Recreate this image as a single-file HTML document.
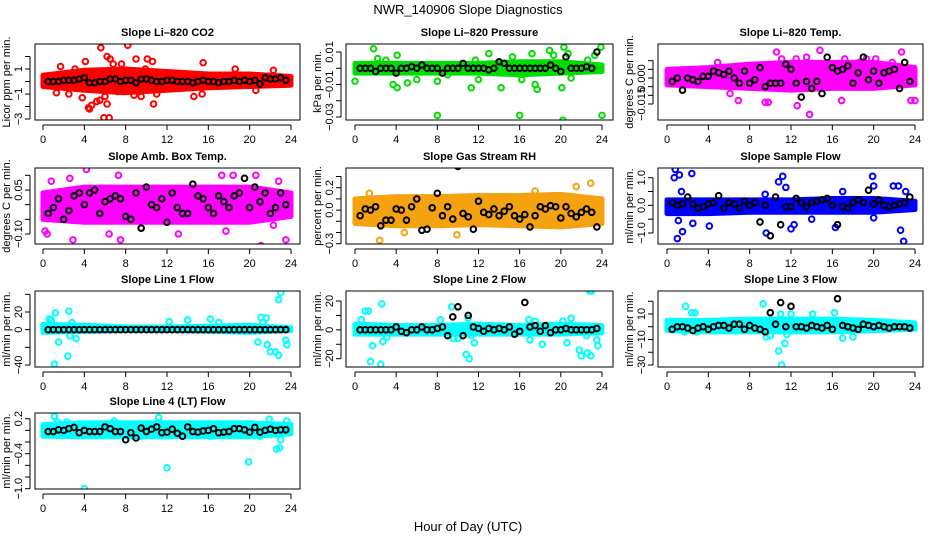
<!DOCTYPE html>
<html><head><meta charset="utf-8"><style>
html,body{margin:0;padding:0;background:#fff}
svg{display:block;font-family:"Liberation Sans",Arial,sans-serif}
</style></head><body>
<svg id="chart" width="936" height="540" viewBox="0 0 936 540">
<text x="468" y="14" text-anchor="middle" font-size="13">NWR_140906  Slope Diagnostics</text>
<text x="468" y="531" text-anchor="middle" font-size="13">Hour of Day (UTC)</text>
</svg>
<script>
// ---- shared categories ----
const BLACK_HOURS=[0.5,1,1.5,2,2.5,3,3.5,4,4.5,5,5.5,6,6.5,7,7.5,8,8.5,9,9.5,10,10.5,11,11.5,12,12.5,13,13.5,14,14.5,15,15.5,16,16.5,17,17.5,18,18.5,19,19.5,20,20.5,21,21.5,22,22.5,23,23.5];
const BAND_HOURS=[0,4,8,12,16,20,24];
const X_TICKS=[0,4,8,12,16,20,24];

// ---- CO2 ----
const co2Black=[0,0,0,0.1,0.1,0.1,0.2,0.3,-0.1,-0.1, 0,0,0.2,0.2,0,0.1,0.1,-0.1,0.2,0.2, 0.1,0,0,0.1,0.1,0,0,0,-0.1,0, 0.1,0,0,-0.1,0,0,0.1,0,0.1,0, 0.1,-0.2,0.3,0.2,0.2,0.3,0.1];
const co2Lo=[-0.4,-0.7,-0.9,-0.7,-0.5,-0.4,-0.3];
const co2Hi=[0.5,0.9,1.0,0.8,0.6,0.6,0.4];
const co2Out=[[1.7,1.2],[2.5,-1.0],[3.8,-1.3],[4.1,1.6],[4.4,-2.1],[4.5,-2.2],[4.7,-1.9],[5.2,-1.6],[5.5,-1.5],[5.6,2.7],[5.9,-2.9],[6.2,-1.8],[6.2,2.0],[6.4,-2.9],[6.5,1.8],[6.8,1.4],[7.2,-0.8],[7.6,1.4],[8.2,2.9],[8.8,-1.1],[9.0,1.8],[9.5,-1.2],[9.9,1.0],[10.1,1.8],[10.4,-0.6],[10.6,1.6],[10.7,-1.8],[11.0,-1.0],[14.6,-1.2],[15.4,-1.0],[15.5,1.5],[18.6,1.0],[20.6,-0.7],[22.3,0.9],[23.0,0.2],[1.3,-0.9],[3.1,1.0],[6.0,-1.2]];
// ---- Pressure ----
const presBlack=[0,0,0,-0.002,0,0,0,-0.003,0,0, 0.001,0,0.002,0,0,0,-0.003,0,0,0, 0.003,0,0,0,0,-0.001,0,0.004,0.003,0, 0,0,0,0,0,0,0,0.002,0,-0.002, 0.007,0,0,0,0.001,0,0.01];
const presLo=[-0.003,-0.003,-0.003,-0.003,-0.004,-0.003,-0.002];
const presHi=[0.003,0.003,0.003,0.003,0.004,0.004,0.002];
const presOut=[[0.0,-0.008],[1.8,0.012],[2.2,0.006],[3.0,0.005],[3.7,-0.01],[4.1,-0.012],[4.1,0.008],[5.1,-0.009],[6.0,-0.007],[8.0,-0.029],[8.0,-0.008],[9.0,-0.004],[11.3,-0.012],[11.7,0.005],[12.0,-0.007],[13.0,0.009],[14.2,-0.012],[15.3,0.007],[16.0,-0.029],[16.2,-0.007],[17.2,0.009],[17.5,-0.01],[17.7,-0.013],[18.9,0.011],[19.3,0.008],[20.1,-0.012],[20.2,-0.032],[20.3,0.013],[20.7,0.009],[21.0,-0.006],[22.6,0.005],[23.3,0.008],[23.9,0.013],[24.0,-0.029]];
// ---- Li-820 Temp ----
const tempBlack=[-0.002,0,-0.007,0,-0.001,-0.002,0.001,0.001,0.004,0.003, 0.002,0.004,0,-0.003,0.004,-0.003,-0.001,0.006,-0.005,-0.003, -0.003,-0.003,0.008,0.005,-0.003,-0.011,-0.002,-0.006,-0.002,-0.009, 0.012,0.006,0.004,0.005,0.007,-0.003,0.003,0.012,-0.001,0.004, -0.003,0.003,0.004,0.005,-0.006,0.009,-0.002];
const tempLo=[-0.004,-0.005,-0.006,-0.007,-0.006,-0.006,-0.004];
const tempHi=[0.005,0.006,0.008,0.009,0.009,0.009,0.006];
const tempOut=[[4.9,0.009],[5.3,0.006],[6.1,-0.009],[6.9,-0.013],[7.8,0.007],[9.5,-0.014],[9.8,-0.014],[10.6,0.015],[11.1,0.011],[12.5,0.011],[12.6,-0.016],[13.8,-0.021],[13.5,0.012],[14.8,0.016],[16.9,-0.013],[17.2,0.011],[18.6,0.009],[19.3,0.011],[20.2,0.011],[21.8,0.009],[22.7,0.015],[23.6,-0.013],[24,-0.013],[1.5,0.003]];
// ---- Amb Box Temp ----
const ambBlack=[-0.03,-0.01,0.02,-0.05,-0.02,0.03,0.04,0.00,0.04,0.05, -0.03,0.01,0.02,0.03,0.02,-0.04,-0.05,0.04,-0.08,0.06, 0.00,-0.01,0.02,-0.06,0.04,-0.01,-0.03,-0.03,0.07,0.03, 0.02,-0.01,-0.03,0.03,0.01,-0.01,0.03,0.04,0.09,-0.01, 0.06,0.01,0.04,-0.03,-0.01,0.04,0.00];
const ambLo=[-0.05,-0.06,-0.06,-0.06,-0.06,-0.06,-0.04];
const ambHi=[0.04,0.06,0.06,0.06,0.06,0.06,0.04];
const ambOut=[[0.2,-0.09],[0.4,-0.10],[0.8,0.08],[2.6,0.09],[2.9,-0.12],[4.2,0.12],[5.3,0.14],[6.4,-0.1],[7.5,-0.12],[7.3,0.1],[9.5,-0.08],[11.5,0.14],[13.1,-0.1],[17.3,0.1],[18.4,0.1],[17.7,-0.09],[20.6,0.1],[21.1,-0.14],[22.3,-0.07],[23.5,-0.12],[22.8,0.08]];
// ---- Gas Stream RH ----
const rhBlack=[-0.05,0.01,0.00,0.03,-0.14,-0.09,-0.09,0.01,0.00,-0.09, 0.03,0.10,-0.18,-0.17,0.02,0.15,-0.05,0.03,-0.08,0.39, -0.03,-0.06,-0.17,0.08,-0.02,-0.04,0.01,-0.05,-0.01,0.03, -0.05,-0.08,-0.04,-0.15,-0.05,0.03,0.01,0.04,0.03,-0.07, 0.03,-0.03,-0.06,-0.02,0.01,-0.02,-0.15];
const rhLo=[-0.12,-0.14,-0.14,-0.13,-0.14,-0.15,-0.12];
const rhHi=[0.10,0.12,0.12,0.13,0.13,0.14,0.10];
const rhOut=[[2.4,-0.27],[4.8,-0.2],[9.9,-0.22],[22.9,0.24],[21.5,0.21],[1.4,0.15],[17.5,0.17]];
// ---- Sample Flow ----
const sfBlack=[0.1,0,0.05,0.3,0.05,-0.1,-0.05,0.05,0.1,0.35, -0.1,0.1,0.05,-0.1,0.15,0,0.1,-0.6,0,-1.1, 0.3,-0.7,-0.05,-0.05,0.25,0.1,-0.05,0.1,0.15,0.2, 0.25,0,-0.7,-0.05,-0.1,0.1,0.2,0.1,0.55,0.05, 0.2,0,-0.05,0,0.05,0.1,0.3];
const sfLo=[-0.3,-0.3,-0.25,-0.25,-0.25,-0.25,-0.15];
const sfHi=[0.2,0.2,0.2,0.2,0.25,0.25,0.15];
const sfOut=[[0.8,1.3],[0.7,1.0],[1.2,1.1],[2.4,1.15],[1.0,-1.2],[1.5,-0.95],[1.1,-0.55],[2.5,-0.65],[4.1,-0.75],[9.6,-1.0],[10.8,0.85],[11.2,1.05],[11.5,0.65],[12.0,-0.85],[12.3,-0.7],[16.3,-0.8],[19.9,1.05],[20,0.7],[21.9,0.7],[22.4,0.7],[22.6,-0.9],[22.9,-1.3],[23.1,0.5],[1.4,0.5],[9.5,0.4],[17,0.5],[14,-0.5],[20,-0.45]];
// ---- Line 1 ----
const l1Black=[0,0,0,0,0,0,0,0,0,0, 0,0,0,0,0,0,0,0,0,0, 0,0,0,0,0,0,0,0,0,0, 0,0,0,0,0,0,0,0,0,0, 0,0,0,0,0,0,0];
const l1Lo=[-3,-2,-1,-1,-2,-3,-1];
const l1Hi=[6,5,3,3,4,5,2];
const l1Out=[[0.6,12],[0.8,11],[1.2,19],[1.5,-14],[1.1,-39],[2.4,-30],[2.5,21],[2.6,-7],[3.2,-10],[2.8,8],[14,11],[16.2,12],[20.8,-14],[21.1,14],[21.6,13],[21.7,-17],[22.0,-25],[22.5,-25],[22.8,-29],[22.8,34],[23,42],[23.5,-12],[23.6,-17],[21.3,8],[17,8],[12.2,9]];
// ---- Line 2 ----
const l2Black=[0,0,0,0,0,0,0,2,-1,-2, 0,0,2,0,0,1,2,-4,9,16, -4,10,2,1,-1,1,0,1,0,2, -3,-1,19,2,3,-1,3,-2,0,0, 1,0,0,0,0,0,1];
const l2Lo=[-3,-3,-3,-3,-3,-3,-2];
const l2Hi=[4,3,3,4,3,4,3];
const l2Out=[[1.0,13],[1.3,13],[1.5,-22],[1.7,-11],[2.6,18],[2.5,-24],[2.7,-8],[3.1,-5],[3.0,-2],[0.6,7],[8.3,7],[9.4,16],[9.6,-6],[10.0,-6],[10.8,-17],[11.1,-20],[11.6,-9],[11.0,8],[11.3,-4],[16.9,7],[17.0,-7],[17.5,6],[18.2,-10],[20.2,6],[20.6,-9],[21.0,8],[21.8,-14],[22.0,-18],[22.5,-4],[22.6,-16],[22.9,-18],[22.8,27],[23.0,27],[23.5,-7],[23.6,-11]];
// ---- Line 3 ----
const l3Black=[-2,0,0,-1,-3,-1,0,-2,0,1, 1,-1,2,2,-2,1,-1,-2,-4,11, 2,19,0,16,0,0,-1,1,0,-1, 1,-2,22,1,0,-1,-2,2,1,0, 1,0,-1,0,0,0,-1];
const l3Lo=[-3,-4,-4,-4,-4,-3,-2];
const l3Hi=[5,5,6,6,6,5,3];
const l3Out=[[1.8,16],[2.4,11],[2.7,11],[9.3,18],[9.6,-8],[10.0,-7],[10.8,-19],[11.0,10],[11.1,-30],[11.4,-13],[11.6,-6],[12.0,10],[14.1,10],[16.2,11],[17.0,-9],[18.0,-8],[1.7,-4],[2.9,-4],[6.0,-1]];
// ---- Line 4 ----
const l4Black=[-0.02,-0.02,0.01,0.0,0.03,0.05,-0.04,0.0,-0.02,-0.02, -0.02,0.06,0.03,-0.02,-0.02,-0.16,-0.04,-0.13,0.04,-0.02, 0.02,0.06,-0.04,-0.03,0.02,-0.05,-0.1,0.06,-0.02,-0.03, -0.01,0.0,0.03,-0.04,-0.03,-0.02,0.03,0.03,0.01,-0.03, 0.05,-0.03,0.0,0.02,0.0,0.01,0.01];
const l4Lo=[-0.1,-0.11,-0.11,-0.11,-0.11,-0.11,-0.06];
const l4Hi=[0.1,0.13,0.13,0.13,0.13,0.13,0.1];
const l4Out=[[1.1,0.24],[1.4,0.14],[2.3,0.14],[0.7,-0.05],[2.2,-0.08],[4.0,-1.0],[6.9,0.16],[9.4,-0.1],[11.2,0.22],[12.0,-0.64],[16.2,-0.1],[19.9,-0.54],[20.6,-0.09],[21.0,-0.1],[21.9,0.19],[22.6,-0.32],[22.9,-0.3],[23.0,-0.16],[23.6,0.16]];

// ---- layout (not data) ----
const COLS=[{l:35,w:265,x0:43,x24:291},{l:346,w:267,x0:355,x24:602},{l:658,w:265,x0:667,x24:915}];
const ROWS=[44,168,291,413];
const H=76;
const panels=[
 {id:'co2',title:'Slope Li\u2013820 CO2',yl:'Licor ppm per min.',c:0,r:0,col:'#ff0000',a:[1,69,-3,119],ticks:[-3,-2,-1,0,1,2],labs:{'-3':'\u22123','-1':'\u22121','1':'1'},blk:co2Black,lo:co2Lo,hi:co2Hi,out:co2Out},
 {id:'pressure',title:'Slope Li\u2013820 Pressure',yl:'kPa per min.',c:1,r:0,col:'#00dd00',a:[0.01,52,-0.03,117],ticks:[-0.03,-0.02,-0.01,0,0.01],labs:{'-0.03':'\u22120.03','-0.01':'\u22120.01','0.01':'0.01'},blk:presBlack,lo:presLo,hi:presHi,out:presOut},
 {id:'li820-temp',title:'Slope Li\u2013820 Temp.',yl:'degrees C per min.',c:2,r:0,col:'#ff00ff',a:[0,78,-0.015,104],ticks:[-0.015,-0.01,-0.005,0,0.005,0.01],labs:{'-0.015':'\u22120.015','0':'0.000'},blk:tempBlack,lo:tempLo,hi:tempHi,out:tempOut},
 {id:'amb-box-temp',title:'Slope Amb. Box Temp.',yl:'degrees C per min.',c:0,r:1,col:'#ff00ff',a:[0.05,190,-0.1,234],ticks:[-0.1,-0.05,0,0.05,0.1],labs:{'-0.1':'\u22120.10','0.05':'0.05'},blk:ambBlack,lo:ambLo,hi:ambHi,out:ambOut},
 {id:'gas-stream-rh',title:'Slope Gas Stream RH',yl:'percent per min.',c:1,r:1,col:'#f5a20f',a:[0.2,187.7,-0.3,243.7],ticks:[-0.3,-0.2,-0.1,0,0.1,0.2,0.3],labs:{'-0.3':'\u22120.3','0':'0.0','0.2':'0.2'},blk:rhBlack,lo:rhLo,hi:rhHi,out:rhOut},
 {id:'sample-flow',title:'Slope Sample Flow',yl:'ml/min per min.',c:2,r:1,col:'#0000ff',a:[1,177.7,-1,233],ticks:[-1,-0.5,0,0.5,1],labs:{'-1':'\u22121.0','0':'0.0','1':'1.0'},blk:sfBlack,lo:sfLo,hi:sfHi,out:sfOut},
 {id:'line1-flow',title:'Slope Line 1 Flow',yl:'ml/min per min.',c:0,r:2,col:'#00ffff',a:[20,312,-40,365],ticks:[-40,-20,0,20,40],labs:{'-40':'\u221240','0':'0','20':'20'},blk:l1Black,lo:l1Lo,hi:l1Hi,out:l1Out},
 {id:'line2-flow',title:'Slope Line 2 Flow',yl:'ml/min per min.',c:1,r:2,col:'#00ffff',a:[20,301,-20,358.7],ticks:[-20,-10,0,10,20],labs:{'-20':'\u221220','0':'0','20':'20'},blk:l2Black,lo:l2Lo,hi:l2Hi,out:l2Out},
 {id:'line3-flow',title:'Slope Line 3 Flow',yl:'ml/min per min.',c:2,r:2,col:'#00ffff',a:[10,314,-30,365],ticks:[-30,-20,-10,0,10,20],labs:{'-30':'\u221230','-10':'\u221210','10':'10'},blk:l3Black,lo:l3Lo,hi:l3Hi,out:l3Out},
 {id:'line4-flow',title:'Slope Line 4 (LT) Flow',yl:'ml/min per min.',c:0,r:3,col:'#00ffff',a:[0.2,418.7,-1,488.7],ticks:[-1,-0.8,-0.6,-0.4,-0.2,0,0.2],labs:{'-1':'\u22121.0','-0.4':'\u22120.4','0.2':'0.2'},blk:l4Black,lo:l4Lo,hi:l4Hi,out:l4Out}
];
const NS='http://www.w3.org/2000/svg';
const svg=document.getElementById('chart');
function mk(tag,attrs,parent){const e=document.createElementNS(NS,tag);for(const k in attrs)e.setAttribute(k,attrs[k]);(parent||svg).appendChild(e);return e;}
const defs=mk('defs',{});
panels.forEach(p=>{
  const C=COLS[p.c], top=ROWS[p.r];
  const xs=h=>C.x0+(C.x24-C.x0)*h/24;
  const ys=v=>p.a[1]+(v-p.a[0])*(p.a[3]-p.a[1])/(p.a[2]-p.a[0]);
  const g=mk('g',{});
  
  
  const cp=mk('clipPath',{id:'cp-'+p.id},defs);
  mk('rect',{x:C.l,y:top,width:C.w,height:H},cp);
  const t=mk('text',{x:C.l+C.w/2,y:top-8,'text-anchor':'middle','font-size':'11','font-weight':'bold'},g);
  t.textContent=p.title;
  
  
  const yt=mk('text',{transform:`translate(${C.l-25},${top+H/2}) rotate(-90)`,'text-anchor':'middle','font-size':'11'},g);
  yt.textContent=p.yl;
  
  
  const marks=mk('g',{'clip-path':`url(#cp-${p.id})`},g);
  let pts=BAND_HOURS.map((h,i)=>xs(h)+','+ys(p.hi[i]));
  pts=pts.concat(BAND_HOURS.slice().reverse().map((h,j)=>{const i=BAND_HOURS.length-1-j;return xs(h)+','+ys(p.lo[i]);}));
  const band=mk('polygon',{points:pts.join(' '),fill:p.col,stroke:p.col,'stroke-width':'5','stroke-linejoin':'round'},marks);
  
  
  p.out.forEach(o=>{
    const c=mk('circle',{cx:xs(o[0]),cy:ys(o[1]),r:2.8,fill:'none',stroke:p.col,'stroke-width':'2'},marks);
    
    
  });
  BLACK_HOURS.forEach((h,i)=>{
    const c=mk('circle',{cx:xs(h),cy:ys(p.blk[i]),r:2.8,fill:'none',stroke:'#000','stroke-width':'2'},marks);
    
    
  });
  const box=mk('rect',{x:C.l,y:top,width:C.w,height:H,fill:'none',stroke:'#000','stroke-width':'1'},g);
  
  
  const xa=mk('g',{},g);
  
  
  mk('line',{x1:xs(0),x2:xs(24),y1:top+H+5,y2:top+H+5,stroke:'#000'},xa);
  X_TICKS.forEach(v=>{
    mk('line',{x1:xs(v),x2:xs(v),y1:top+H+5,y2:top+H+10,stroke:'#000'},xa);
    const tl=mk('text',{x:xs(v),y:top+H+23,'text-anchor':'middle','font-size':'11'},xa);
    tl.textContent=v;
  });
  const ya=mk('g',{},g);
  
  
  const tv=p.ticks;
  mk('line',{x1:C.l-5,x2:C.l-5,y1:ys(tv[0]),y2:ys(tv[tv.length-1]),stroke:'#000'},ya);
  tv.forEach(v=>{
    mk('line',{x1:C.l-5,x2:C.l-10,y1:ys(v),y2:ys(v),stroke:'#000'},ya);
    const key=String(v);
    if(p.labs[key]!==undefined){
      const tl=mk('text',{transform:`translate(${C.l-13},${ys(v)}) rotate(-90)`,'text-anchor':'middle','font-size':'11'},ya);
      tl.textContent=p.labs[key];
    }
  });
});
</script>
</body></html>
